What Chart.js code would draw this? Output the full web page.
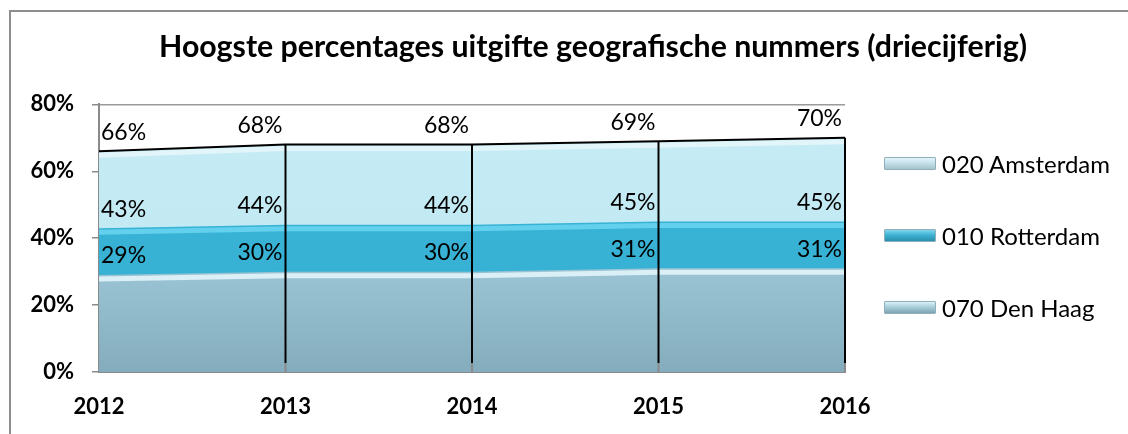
<!DOCTYPE html>
<html>
<head>
<meta charset="utf-8">
<script src="https://cdn.jsdelivr.net/npm/chart.js@4"></script>
<style>
  html, body { margin: 0; padding: 0; background: #fff; overflow: hidden; width: 1128px; height: 434px; }
  #wrap { position: relative; width: 1128px; height: 434px; overflow: hidden; }
  #frame { position: absolute; left: 9px; top: 10px; width: 1300px; height: 600px; border-left: 2px solid #8e8e8e; border-top: 2px solid #8e8e8e; }
  canvas { position: absolute; left: 0; top: 0; }
  #legend { position: absolute; left: 884px; top: 0; font-family: Lato, sans-serif; font-size: 24px; color: #000; }
  .item { position: absolute; left: 0; white-space: nowrap; display: flex; align-items: center; height: 30px; }
  .sw { width: 52px; height: 13px; margin-right: 6px; box-sizing: border-box; border-radius: 1px; }
</style>
</head>
<body>
<div id="wrap">
  <div id="frame"></div>
  <canvas id="c" width="1177" height="434"></canvas>
  <div id="legend"></div>
</div>
<script>
const categories = ['2012', '2013', '2014', '2015', '2016'];
const seriesNames = ['020 Amsterdam', '010 Rotterdam', '070 Den Haag'];
const amsterdam = [66, 68, 68, 69, 70];
const rotterdam = [43, 44, 44, 45, 45];
const denHaag = [29, 30, 30, 31, 31];
const yTicks = [0, 20, 40, 60, 80];
const titleText = 'Hoogste percentages uitgifte geografische nummers (driecijferig)';

const FONT = 'Lato, sans-serif';

function grad(ctx, area, stops) {
  if (!area) return stops[0][1];
  const g = ctx.createLinearGradient(0, area.top, 0, area.bottom);
  stops.forEach(s => g.addColorStop(s[0], s[1]));
  return g;
}

// Highlights, drop lines, top border and data labels
const decorations = {
  id: 'decorations',
  afterDatasetsDraw(chart) {
    const ctx = chart.ctx;
    const y = chart.scales.y;
    const base = y.getPixelForValue(0);
    const a = chart.chartArea;
    chart.data.datasets.forEach((ds, di) => {
      const pts = chart.getDatasetMeta(di).data;
      ctx.save();
      ctx.beginPath();
      ctx.rect(a.left, a.top, a.right - a.left, a.bottom - a.top);
      ctx.clip();
      ctx.lineWidth = 5;
      ctx.strokeStyle = ds.highlight;
      ctx.beginPath();
      pts.forEach((p, i) => { if (i === 0) ctx.moveTo(p.x, p.y + 4); else ctx.lineTo(p.x, p.y + 4); });
      ctx.stroke();
      ctx.restore();
    });
    const top = chart.getDatasetMeta(0);
    ctx.save();
    top.data.forEach((p, i) => {
      if (i === 0) return;
      ctx.strokeStyle = '#000';
      ctx.lineWidth = 2;
      ctx.beginPath();
      ctx.moveTo(p.x, p.y);
      ctx.lineTo(p.x, base - 9);
      ctx.stroke();
      ctx.strokeStyle = '#8a8a8a';
      ctx.beginPath();
      ctx.moveTo(p.x, base - 9);
      ctx.lineTo(p.x, base);
      ctx.stroke();
    });
    ctx.strokeStyle = '#000';
    ctx.lineWidth = 2;
    ctx.beginPath();
    top.data.forEach((p, i) => { if (i === 0) ctx.moveTo(p.x, p.y); else ctx.lineTo(p.x, p.y); });
    ctx.stroke();
    ctx.fillStyle = '#000';
    ctx.font = '23px ' + FONT;
    ctx.textBaseline = 'middle';
    chart.data.datasets.forEach((ds, di) => {
      const meta = chart.getDatasetMeta(di);
      meta.data.forEach((p, i) => {
        const txt = ds.data[i] + '%';
        if (i === 0) { ctx.textAlign = 'left'; ctx.fillText(txt, p.x + 2, p.y - 19); }
        else { ctx.textAlign = 'right'; ctx.fillText(txt, p.x - 3, p.y - 19); }
      });
    });
    ctx.restore();
  }
};

const chart = new Chart(document.getElementById('c'), {
  type: 'line',
  data: {
    labels: categories,
    datasets: [
      { label: seriesNames[0], data: amsterdam, fill: 'origin', order: 3, borderWidth: 0, pointRadius: 0,
        highlight: 'rgba(255,255,255,0.5)',
        backgroundColor: c => grad(c.chart.ctx, c.chart.chartArea, [[0, '#c6ecf5'], [1, '#bfe8f2']]) },
      { label: seriesNames[1], data: rotterdam, fill: 'origin', order: 2, borderWidth: 0, pointRadius: 0,
        highlight: 'rgba(110,215,242,0.8)',
        backgroundColor: c => grad(c.chart.ctx, c.chart.chartArea, [[0, '#3ab5d7'], [1, '#35b0d2']]) },
      { label: seriesNames[2], data: denHaag, fill: 'origin', order: 1, borderWidth: 0, pointRadius: 0,
        highlight: 'rgba(225,244,250,0.9)',
        backgroundColor: c => grad(c.chart.ctx, c.chart.chartArea, [[0, '#bfe3ee'], [0.45, '#a4cfdf'], [1, '#84acbd']]) }
    ]
  },
  options: {
    responsive: false,
    animation: false,
    events: [],
    layout: { padding: { left: 9, top: 10, right: 0, bottom: 0 } },
    plugins: {
      legend: { display: false },
      tooltip: { enabled: false },
      title: {
        display: true,
        text: titleText,
        color: '#000',
        font: { family: FONT, size: 30.3, weight: 'bold', lineHeight: 1.2 },
        padding: { top: 19, bottom: 39 }
      }
    },
    elements: { line: { tension: 0 } },
    scales: {
      x: {
        type: 'category',
        offset: false,
        grid: { display: false, drawTicks: false },
        border: { display: true, color: '#8a8a8a', width: 2 },
        ticks: { color: '#000', font: { family: FONT, size: 22, weight: 'bold' }, padding: 22, maxRotation: 0 },
        afterFit: s => { s.height = 62; }
      },
      y: {
        min: yTicks[0], max: yTicks[yTicks.length - 1],
        afterBuildTicks: s => { s.ticks = yTicks.map(v => ({ value: v })); },
        grid: { color: '#9a9a9a', lineWidth: 1.5, drawTicks: true, tickLength: 7, tickColor: '#8a8a8a' },
        border: { display: true, color: '#8a8a8a', width: 2 },
        ticks: { color: '#000', font: { family: FONT, size: 22, weight: 'bold' }, padding: 18,
                 callback: (v, i) => yTicks[i] + '%' },
        afterFit: s => { s.width = 90; }
      },
      legendSpace: {
        type: 'linear', axis: 'y', position: 'right', display: true,
        grid: { display: false, drawTicks: false },
        border: { display: false },
        ticks: { display: false },
        afterFit: s => { s.width = 332; }
      }
    }
  },
  plugins: [decorations]
});

const swatches = {
  '020 Amsterdam': 'linear-gradient(#e4f4f8 0%, #c8e4ec 40%, #a6c3cb 100%)',
  '010 Rotterdam': 'linear-gradient(#7fd6ec 0%, #3fb2d2 45%, #2a8fae 100%)',
  '070 Den Haag': 'linear-gradient(#d9f0f6 0%, #a9cfdc 45%, #7fa3b1 100%)'
};
const legendEl = document.getElementById('legend');
const yCenters = [163, 235, 307];
chart.data.datasets.forEach((ds, i) => {
  const it = document.createElement('div');
  it.className = 'item';
  it.style.top = (yCenters[i] - 15) + 'px';
  const sw = document.createElement('span');
  sw.className = 'sw';
  sw.style.background = swatches[ds.label];
  sw.style.border = '1px solid #8fb0ba';
  const tx = document.createElement('span');
  tx.textContent = ds.label;
  it.appendChild(sw); it.appendChild(tx);
  legendEl.appendChild(it);
});
</script>
</body>
</html>
